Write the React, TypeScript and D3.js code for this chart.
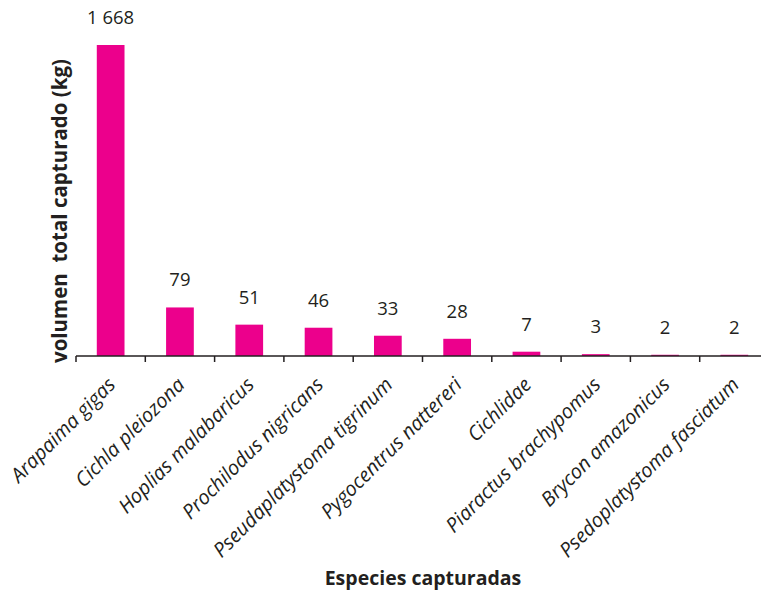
import React from "react";
import * as d3 from "d3";

// Catch volume per species (kg)
const species = [
  "Arapaima gigas",
  "Cichla pleiozona",
  "Hoplias malabaricus",
  "Prochilodus nigricans",
  "Pseudaplatystoma tigrinum",
  "Pygocentrus nattereri",
  "Cichlidae",
  "Piaractus brachypomus",
  "Brycon amazonicus",
  "Psedoplatystoma fasciatum",
];
const volumes = [1668, 79, 51, 46, 33, 28, 7, 3, 2, 2];
const valueLabels = ["1 668", "79", "51", "46", "33", "28", "7", "3", "2", "2"];

const yTitle = "volumen\u00a0\u00a0total capturado (kg)";
const xTitle = "Especies capturadas";

const W = 761;
const H = 592;
const plotLeft = 76;
const plotRight = 769;
const baseline = 356;
const plotTop = 45;
// visible value range; taller bars are cut at the top of the plot
const yCap = 506;

const BAR = "#EC008C";
const INK = "#231F20";
const FONT = "'Open Sans', Lato, sans-serif";

export default function App() {
  const x = d3.scaleBand<string>().domain(species).range([plotLeft, plotRight]).paddingInner(0.6).paddingOuter(0.3);
  const y = d3.scaleLinear().domain([0, yCap]).range([baseline, plotTop]).clamp(true);
  const step = x.step();
  const boundaries = d3.range(species.length + 1).map((i) => plotLeft + i * step);

  return (
    <svg width={W} height={H} style={{ position: "absolute", left: 0, top: 0, background: "#fff" }}>
      {volumes.map((v, i) => {
        const cx = x(species[i])! + x.bandwidth() / 2;
        return (
          <g key={species[i]}>
            <rect x={x(species[i])} y={y(v)} width={x.bandwidth()} height={baseline - y(v)} fill={BAR} />
            <text x={cx} y={y(v) - 21} textAnchor="middle" fontFamily={FONT} fontSize={18.5} fill={INK}>
              {valueLabels[i]}
            </text>
          </g>
        );
      })}
      <line x1={plotLeft} x2={plotRight} y1={baseline} y2={baseline} stroke={INK} strokeWidth={1.5} />
      {boundaries.map((bx, i) => (
        <line key={i} x1={bx} x2={bx} y1={baseline} y2={baseline + 6} stroke={INK} strokeWidth={1.5} />
      ))}
      {species.map((s) => {
        const cx = x(s)! + x.bandwidth() / 2;
        return (
          <text
            key={s}
            transform={`translate(${cx + 6},${baseline + 30}) rotate(-45)`}
            textAnchor="end"
            fontFamily={FONT}
            fontStyle="italic"
            fontSize={20}
            fill={INK}
          >
            {s}
          </text>
        );
      })}
      <text
        transform={`translate(67,${211}) rotate(-90)`}
        textAnchor="middle"
        fontFamily={FONT}
        fontWeight="bold"
        fontSize={20.5}
        fill={INK}
      >
        {yTitle}
      </text>
      <text x={423} y={585} textAnchor="middle" fontFamily={FONT} fontWeight="bold" fontSize={19.5} fill={INK}>
        {xTitle}
      </text>
    </svg>
  );
}
